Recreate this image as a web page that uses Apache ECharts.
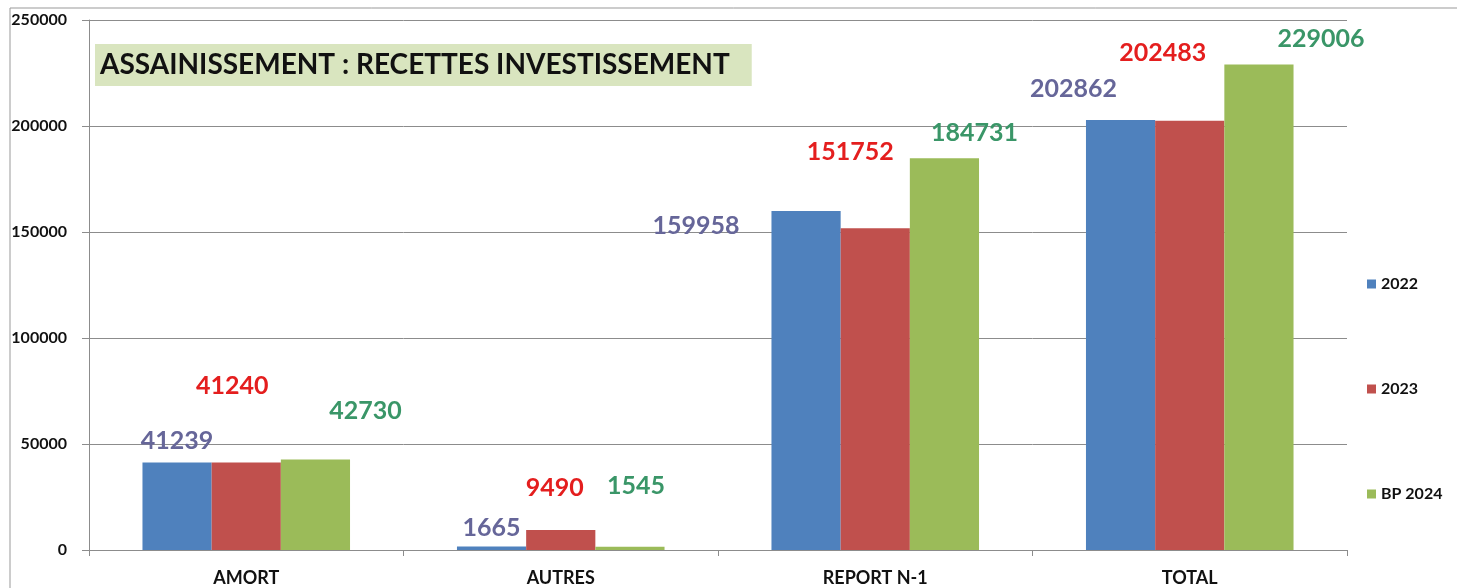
<!DOCTYPE html>
<html>
<head>
<meta charset="utf-8">
<script src="https://cdn.jsdelivr.net/npm/echarts@6/dist/echarts.min.js"></script>
<style>
html, body { margin: 0; padding: 0; background: #fff; }
#chart { width: 1465px; height: 588px; }
</style>
</head>
<body>
<div id="chart"></div>
<script>
// donnees
var categories = ['AMORT', 'AUTRES', 'REPORT N-1', 'TOTAL'];
var seriesNames = ['2022', '2023', 'BP 2024'];
var values2022 = [41239, 1665, 159958, 202862];
var values2023 = [41240, 9490, 151752, 202483];
var valuesBP2024 = [42730, 1545, 184731, 229006];
var yTicks = [0, 50000, 100000, 150000, 200000, 250000];

// decalage des etiquettes (placees a la main comme dans Excel)
var offsets2022 = [[0, -4], [0, -1], [-110, 33], [-47, -13]];
var offsets2023 = [[-14, -59], [-6, -24], [-25, -59], [-27, -50]];
var offsetsBP2024 = [[50, -31], [6, -43], [30, -8], [62, -8]];

var barColors = ['#4f81bd', '#c0504d', '#9bbb59'];
var labelColors = ['#666699', '#e41e1e', '#3a9668'];

function makeSeries(name, vals, offs, idx) {
	var data = [];
	for (var i = 0; i < vals.length; i++) {
		data.push({
			value: vals[i],
			label: { offset: offs[i] }
		});
	}
	return {
		name: name,
		type: 'bar',
		barGap: '0%',
		barCategoryGap: '34%',
		itemStyle: { color: barColors[idx] },
		label: {
			show: true,
			position: 'top',
			distance: 5,
			color: labelColors[idx],
			fontFamily: 'Lato',
			fontWeight: 'bold',
			fontSize: 25
		},
		data: data
	};
}

var myChart = echarts.init(document.getElementById('chart'));
var option = {
	animation: false,
	backgroundColor: '#fff',
	title: {
		text: 'ASSAINISSEMENT : RECETTES INVESTISSEMENT',
		left: 95,
		top: 44,
		padding: [7, 22, 7, 5],
		backgroundColor: '#d9e5bf',
		textStyle: {
			color: '#111',
			fontFamily: 'Lato',
			fontWeight: 'bold',
			fontSize: 28
		}
	},
	legend: {
		orient: 'vertical',
		left: 1362,
		top: 271,
		itemWidth: 9,
		itemHeight: 9,
		itemGap: 89,
		icon: 'rect',
		textStyle: {
			color: '#111',
			fontFamily: 'Lato',
			fontWeight: 'bold',
			fontSize: 16
		},
		data: seriesNames
	},
	grid: {
		left: 89,
		right: 118,
		top: 20,
		bottom: 38,
		containLabel: false
	},
	xAxis: {
		type: 'category',
		data: categories,
		axisLine: { lineStyle: { color: '#8c8c8c', width: 1 } },
		axisTick: { show: true, length: 6, lineStyle: { color: '#8c8c8c' } },
		axisLabel: {
			margin: 19,
			color: '#111',
			fontFamily: 'Lato',
			fontWeight: 'bold',
			fontSize: 18
		}
	},
	yAxis: {
		type: 'value',
		min: yTicks[0],
		max: yTicks[yTicks.length - 1],
		interval: yTicks[1] - yTicks[0],
		axisLine: { show: true, lineStyle: { color: '#8c8c8c' } },
		axisTick: { show: true, length: 7, lineStyle: { color: '#8c8c8c' } },
		splitLine: { lineStyle: { color: '#8c8c8c', width: 1 } },
		axisLabel: {
			margin: 22,
			color: '#111',
			fontFamily: 'Lato',
			fontWeight: 'bold',
			fontSize: 16,
			formatter: function(v) { return String(v); }
		}
	},
	graphic: [
		{ type: 'line', shape: { x1: 10, y1: 8, x2: 1457, y2: 8 }, style: { stroke: '#999', lineWidth: 1 } },
		{ type: 'line', shape: { x1: 10, y1: 8, x2: 10, y2: 588 }, style: { stroke: '#999', lineWidth: 1 } }
	],
	series: [
		makeSeries(seriesNames[0], values2022, offsets2022, 0),
		makeSeries(seriesNames[1], values2023, offsets2023, 1),
		makeSeries(seriesNames[2], valuesBP2024, offsetsBP2024, 2)
	]
};
myChart.setOption(option);
</script>
</body>
</html>
